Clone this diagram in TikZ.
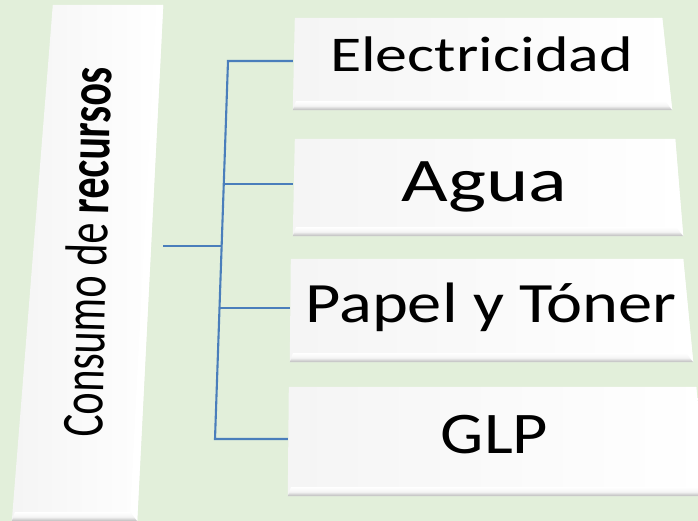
\documentclass[tikz,border=0pt]{standalone}
\usepackage{fontspec}
\setmainfont{Carlito}
\usetikzlibrary{calc, positioning}
\usepackage{graphicx}
\usepackage{xcolor}
\definecolor{fondo}{HTML}{E2EFDA}
\definecolor{linea}{HTML}{4A7EBB}

% caja con bisel: nodo, sangrias (sup. izq., sup. der., inf. der., inf. izq.)
\newcommand{\caja}[5]{%
  \shade[left color=gray!8, right color=white]
    ($(#1.north west)+(#2,0)$) -- ($(#1.north east)+(-#3,0)$) -- ($(#1.south east)+(-#4,0)$) -- ($(#1.south west)+(#5,0)$) -- cycle;
  \fill[white]
    ($(#1.north east)+(-#3-7,2)$) -- ($(#1.north east)+(-#3,0)$) -- ($(#1.south east)+(-#4,0)$) -- ($(#1.south east)+(-#4-7,-9)$) -- cycle;
  \shade[top color=white, bottom color=gray!55, middle color=gray!8]
    ($(#1.south west)+(#5+3,-9)$) -- ($(#1.south east)+(-#4-7,-9)$) -- ($(#1.south east)+(-#4,0)$) -- ($(#1.south west)+(#5,0)$) -- cycle;
}

\begin{document}
\begin{tikzpicture}[x=1pt, y=-1pt,
		caja/.style={draw=none, shape=rectangle, inner sep=0pt},
		conector/.style={draw=linea, line width=2.1pt},
		texto/.style={anchor=base, text=black}]
		\fill[fondo] (0,0) rectangle (698,521);
		\useasboundingbox (0,0) rectangle (698,521);
		
		\node[caja, minimum width=151pt, minimum height=516pt] (C) at (87.5,263) {};
		\node[caja, minimum width=379pt, minimum height=92pt] (E) at (482.5,64) {};
		\node[caja, minimum width=390pt, minimum height=97pt] (A) at (488,187.5) {};
		\node[caja, minimum width=403pt, minimum height=103pt] (P) at (491.5,310.5) {};
		\node[caja, minimum width=418pt, minimum height=109pt] (G) at (497,441.5) {};
		
		\coordinate (t1) at (228,61);
		\coordinate (t2) at (224,184);
		\coordinate (t0) at (222,246);
		\coordinate (t3) at (219.5,308);
		\coordinate (t4) at (215,439);
		
		\draw[conector] (t1 -| E.west) -- (t1) -- (t4) -- (t4 -| G.west);
		\draw[conector] (t2) -- (t2 -| A.west);
		\draw[conector] (t3) -- (t3 -| P.west);
		\draw[conector] (t0 -| C.east) -- (t0);
		
		\caja{C}{41}{0}{26}{0}
		\caja{E}{2}{10}{0}{0}
		\caja{A}{2}{8}{0}{0}
		\caja{P}{1}{10}{0}{0}
		\caja{G}{1}{10}{0}{0}
		
		\node[texto, rotate=88.5, font=\fontsize{43}{43}\selectfont] (C-t) at (107,252.5) {\scalebox{0.98}[1.38]{Consumo de \textbf{recursos}}};
		\node[texto, font=\fontsize{50}{50}\selectfont] (E-t) at (481.5,72) {\scalebox{1.28}[1]{Electricidad}};
		\node[texto, font=\fontsize{62}{62}\selectfont] (A-t) at (484.5,202) {\scalebox{1.30}[1]{Agua}};
		\node[texto, font=\fontsize{57}{57}\selectfont] (P-t) at (491,322) {\scalebox{1.20}[1]{Papel y Tóner}};
		\node[texto, font=\fontsize{59}{59}\selectfont] (G-t) at (494.5,453) {\scalebox{1.16}[1]{GLP}};
\end{tikzpicture}
\end{document}
